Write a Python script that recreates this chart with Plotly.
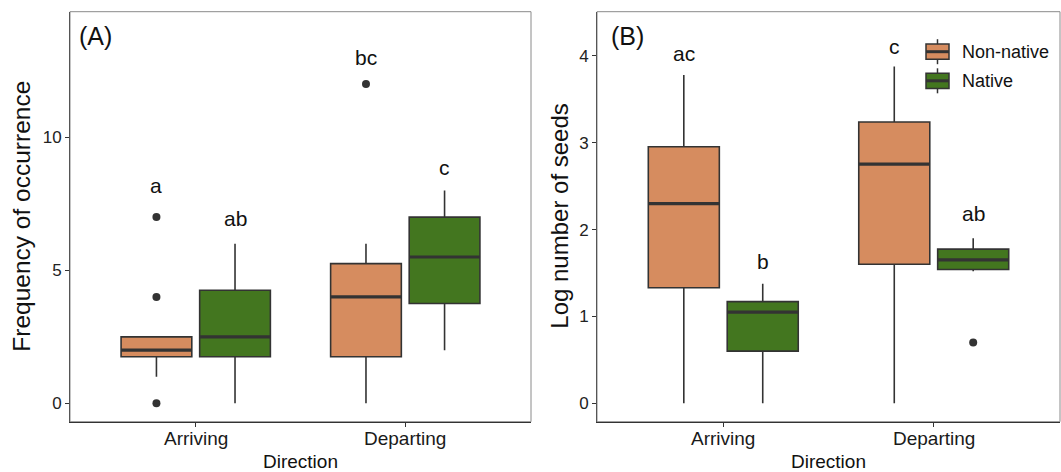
import plotly.graph_objects as go

# ---------------- data ----------------
directions = ["Arriving", "Departing"]
groups = ["Non-native", "Native"]
group_colors = ["#D68C5F", "#43761F"]

# Panel A: frequency of occurrence (box statistics)
freq_q1 = {"Non-native": [1.75, 1.75], "Native": [1.75, 3.75]}
freq_median = {"Non-native": [2.0, 4.0], "Native": [2.5, 5.5]}
freq_q3 = {"Non-native": [2.5, 5.25], "Native": [4.25, 7.0]}
freq_lower = {"Non-native": [1.0, 0.0], "Native": [0.0, 2.0]}
freq_upper = {"Non-native": [2.5, 6.0], "Native": [6.0, 8.0]}
freq_outliers = {"Non-native": [[7, 4, 0], [12]], "Native": [[], []]}
freq_letters = {"Non-native": ["a", "bc"], "Native": ["ab", "c"]}
freq_letter_y = {"Non-native": [8.2, 13.0], "Native": [6.95, 8.85]}

# Panel B: log number of seeds
seed_q1 = {"Non-native": [1.33, 1.60], "Native": [0.60, 1.54]}
seed_median = {"Non-native": [2.30, 2.755], "Native": [1.05, 1.65]}
seed_q3 = {"Non-native": [2.955, 3.24], "Native": [1.17, 1.775]}
seed_lower = {"Non-native": [0.0, 0.0], "Native": [0.0, 1.52]}
seed_upper = {"Non-native": [3.78, 3.88], "Native": [1.375, 1.90]}
seed_outliers = {"Non-native": [[], []], "Native": [[], [0.70]]}
seed_letters = {"Non-native": ["ac", "c"], "Native": ["b", "ab"]}
seed_letter_y = {"Non-native": [4.03, 4.11], "Native": [1.63, 2.18]}

# ---------------- styling ----------------
W, H = 1061, 472
DODGE = 0.1875
BOXW = 0.3375
LINE = "#333333"
FONT = "Liberation Sans, Arial, sans-serif"

fig = go.Figure()


def add_panel(xa, ya, q1, med, q3, lo, up, outl, letters, letter_y):
    for gi, g in enumerate(groups):
        off = -DODGE if gi == 0 else DODGE
        for di, d in enumerate(directions):
            pos = di + 1 + off
            fig.add_trace(go.Box(
                x=[pos], q1=[q1[g][di]], median=[med[g][di]], q3=[q3[g][di]],
                lowerfence=[lo[g][di]], upperfence=[up[g][di]],
                width=BOXW, whiskerwidth=0, boxpoints=False,
                fillcolor=group_colors[gi], line=dict(color=LINE, width=1.6),
                xaxis=xa, yaxis=ya, showlegend=False, hoverinfo="skip"))
            # thicker median line (ggplot style)
            fig.add_trace(go.Scatter(
                x=[pos - BOXW / 2, pos + BOXW / 2], y=[med[g][di], med[g][di]],
                mode="lines", line=dict(color=LINE, width=3.2),
                xaxis=xa, yaxis=ya, showlegend=False, hoverinfo="skip"))
            if outl[g][di]:
                fig.add_trace(go.Scatter(
                    x=[pos] * len(outl[g][di]), y=outl[g][di], mode="markers",
                    marker=dict(color=LINE, size=8),
                    xaxis=xa, yaxis=ya, showlegend=False, hoverinfo="skip"))
            fig.add_annotation(
                x=pos, y=letter_y[g][di], xref=xa, yref=ya, text=letters[g][di],
                showarrow=False, xanchor="center", yanchor="middle",
                font=dict(family=FONT, size=21, color="#111111"))
    # category labels under the axis
    for di, d in enumerate(directions):
        fig.add_annotation(x=di + 1, y=1 - 438.4 / H, xref=xa, yref="paper", text=d,
                           showarrow=False, xanchor="center", yanchor="middle",
                           font=dict(family=FONT, size=19, color="#1a1a1a"))


add_panel("x", "y", freq_q1, freq_median, freq_q3, freq_lower, freq_upper,
          freq_outliers, freq_letters, freq_letter_y)
add_panel("x2", "y2", seed_q1, seed_median, seed_q3, seed_lower, seed_upper,
          seed_outliers, seed_letters, seed_letter_y)

ydom = [(H - 421.7) / H, (H - 11.7) / H]
xdom1 = [70 / W, 531 / W]
xdom2 = [597 / W, 1060 / W]

xcommon = dict(range=[0.4, 2.6], tickvals=[1, 2], showticklabels=False,
               showgrid=False, zeroline=False, showline=True, linecolor=LINE,
               linewidth=1.2, ticks="outside", ticklen=4, tickcolor=LINE)
ycommon = dict(showgrid=False, zeroline=False, showline=True, linecolor="#555555",
               linewidth=1, ticks="outside", ticklen=4, tickcolor=LINE,
               tickfont=dict(family=FONT, size=17, color="#222222"))

fig.update_layout(
    width=W, height=H, margin=dict(l=0, r=0, t=0, b=0),
    paper_bgcolor="white", plot_bgcolor="white",
    showlegend=False, hovermode=False,
    xaxis=dict(domain=xdom1, anchor="y", **xcommon),
    yaxis=dict(domain=ydom, anchor="x", range=[-0.69, 14.72],
               tickvals=[0, 5, 10], **ycommon),
    xaxis2=dict(domain=xdom2, anchor="y2", **xcommon),
    yaxis2=dict(domain=ydom, anchor="x2", range=[-0.213, 4.51],
                tickvals=[0, 1, 2, 3, 4], **ycommon),
)

# panel borders (grey frame)
for xd in (xdom1, xdom2):
    fig.add_shape(type="rect", xref="paper", yref="paper",
                  x0=xd[0], x1=xd[1], y0=ydom[0], y1=ydom[1],
                  line=dict(color="#8a8a8a", width=1), layer="below")

# panel letters
fig.add_annotation(x=77 / W, y=1 - 36 / H, xref="paper", yref="paper", text="(A)",
                   showarrow=False, xanchor="left", yanchor="middle",
                   font=dict(family=FONT, size=25, color="#111111"))
fig.add_annotation(x=609 / W, y=1 - 36 / H, xref="paper", yref="paper", text="(B)",
                   showarrow=False, xanchor="left", yanchor="middle",
                   font=dict(family=FONT, size=25, color="#111111"))

# axis titles
for xd in (xdom1, xdom2):
    fig.add_annotation(x=(xd[0] + xd[1]) / 2, y=1 - 461.5 / H, xref="paper", yref="paper",
                       text="Direction", showarrow=False, xanchor="center",
                       yanchor="middle", font=dict(family=FONT, size=19, color="#111111"))
fig.add_annotation(x=22 / W, y=1 - 216.7 / H, xref="paper", yref="paper",
                   text="Frequency of occurrence", textangle=-90, showarrow=False,
                   xanchor="center", yanchor="middle",
                   font=dict(family=FONT, size=24.5, color="#111111"))
fig.add_annotation(x=560 / W, y=1 - 216.7 / H, xref="paper", yref="paper",
                   text="Log number of seeds", textangle=-90, showarrow=False,
                   xanchor="center", yanchor="middle",
                   font=dict(family=FONT, size=24, color="#111111"))

# legend (ggplot-style box keys)
key_cx, key_half_w, key_half_h, whisk_half = 937.5, 11.5, 7.6, 12.5
for gi, (g, rowy) in enumerate(zip(groups, [51.7, 80.8])):
    px = lambda v: v / W
    py = lambda v: 1 - v / H
    fig.add_shape(type="line", xref="paper", yref="paper",
                  x0=px(key_cx), x1=px(key_cx), y0=py(rowy - whisk_half), y1=py(rowy + whisk_half),
                  line=dict(color=LINE, width=1.5))
    fig.add_shape(type="rect", xref="paper", yref="paper",
                  x0=px(key_cx - key_half_w), x1=px(key_cx + key_half_w),
                  y0=py(rowy + key_half_h), y1=py(rowy - key_half_h),
                  fillcolor=group_colors[gi], line=dict(color=LINE, width=1.5))
    fig.add_shape(type="line", xref="paper", yref="paper",
                  x0=px(key_cx - key_half_w), x1=px(key_cx + key_half_w),
                  y0=py(rowy), y1=py(rowy), line=dict(color=LINE, width=3))
    fig.add_annotation(x=px(960), y=py(rowy), xref="paper", yref="paper", text=g,
                       showarrow=False, xanchor="left", yanchor="middle",
                       font=dict(family=FONT, size=18, color="#111111"))

fig.write_html("out.html", config={"displayModeBar": False},
               post_script="document.body.style.margin='0';"
                           "document.body.style.overflow='hidden';")
